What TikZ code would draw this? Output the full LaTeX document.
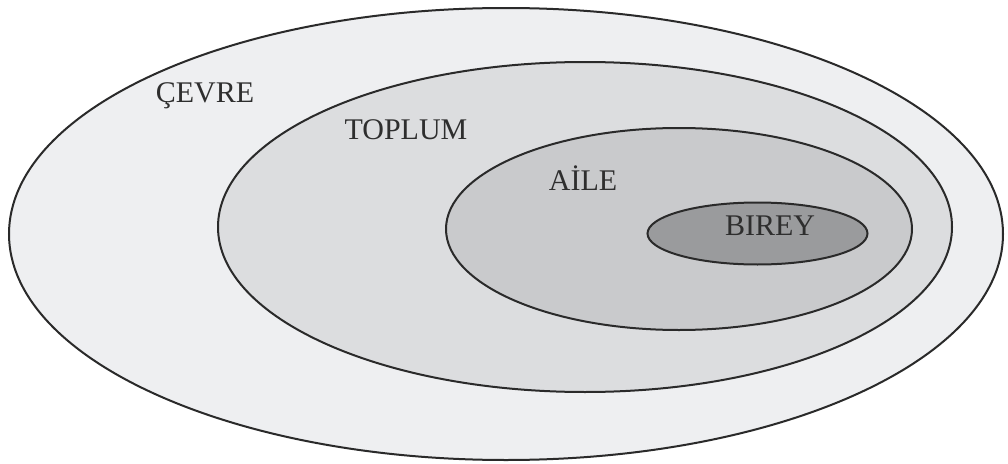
\documentclass[tikz,border=0pt]{standalone}
\usepackage{fontspec}
\setmainfont{Liberation Serif}
\definecolor{cevrefill}{HTML}{EEEFF1}
\definecolor{toplumfill}{HTML}{DCDDDF}
\definecolor{ailefill}{HTML}{C9CACC}
\definecolor{bireyfill}{HTML}{9A9B9D}
\definecolor{rim}{HTML}{2A2A2A}
\begin{document}
\begin{tikzpicture}[x=0.75pt,y=-0.75pt,
  ring/.style={draw=rim,line width=1.5pt},
  tag/.style={text=black!82,font=\fontsize{22.5}{26}\selectfont,inner sep=0pt}]
\useasboundingbox[fill=white] (0,0) rectangle (1008,464);
\draw [ring,fill=cevrefill] (506,234) ellipse [x radius=497, y radius=226];
\draw [ring,fill=toplumfill] (585,227) ellipse [x radius=367, y radius=165];
\draw [ring,fill=ailefill] (679,229) ellipse [x radius=233, y radius=101];
\draw [ring,fill=bireyfill] (757.5,233.5) ellipse [x radius=110, y radius=31];
\node [tag] (cevre) at (205,96) {ÇEVRE};
\node [tag] (toplum) at (406,130) {TOPLUM};
\node [tag] (aile) at (583,178) {AİLE};
\node [tag] (birey) at (770,226) {BIREY};
\end{tikzpicture}
\end{document}
